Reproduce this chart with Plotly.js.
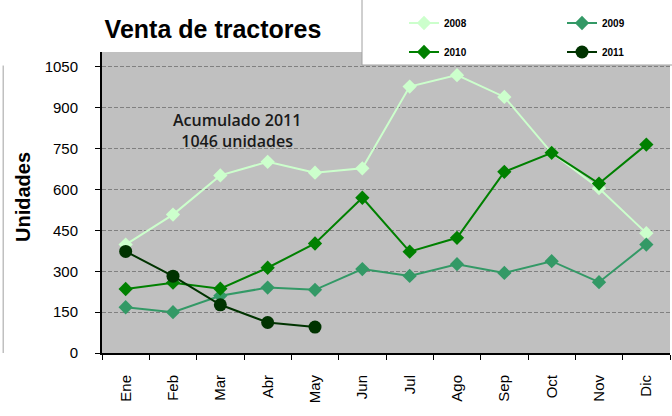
<!DOCTYPE html>
<html>
<head>
<meta charset="utf-8">
<script src="https://cdn.plot.ly/plotly-3.0.1.min.js"></script>
<style>
  html, body { margin: 0; padding: 0; background: #fff; }
  #chartBox { width: 672px; height: 416px; }
</style>
</head>
<body>
<div id="chartBox"></div>
<script>
// meses y ventas por año
const meses = ['Ene', 'Feb', 'Mar', 'Abr', 'May', 'Jun', 'Jul', 'Ago', 'Sep', 'Oct', 'Nov', 'Dic'];
const ventas2008 = [398, 508, 652, 702, 662, 678, 978, 1020, 940, 735, 605, 440];
const ventas2009 = [168, 150, 210, 240, 232, 308, 283, 326, 294, 337, 260, 398];
const ventas2010 = [235, 258, 236, 313, 402, 570, 372, 423, 665, 735, 622, 765];
const ventas2011 = [373, 282, 177, 112, 95];
const yTicks = [0, 150, 300, 450, 600, 750, 900, 1050];

const fontBase = 'Liberation Sans, Arial, sans-serif';

function serie(name, y, color, symbol, size, legend) {
    return {
        x: meses.slice(0, y.length),
        y: y,
        name: name,
        type: 'scatter',
        mode: 'lines+markers',
        line: {color: color, width: 2},
        marker: {color: color, symbol: symbol, size: size},
        showlegend: true,
        legend: legend
    };
}

const data = [
    serie('2008', ventas2008, '#ccffcc', 'diamond', 11, 'legend'),
    serie('2009', ventas2009, '#339966', 'diamond', 11, 'legend2'),
    serie('2010', ventas2010, '#008000', 'diamond', 11, 'legend3'),
    serie('2011', ventas2011, '#003300', 'circle', 13, 'legend4')
];

// una leyenda por serie, para colocarlas en 2 x 2
function leyenda(px, py) {
    return {
        xanchor: 'left',
        yanchor: 'middle',
        x: (px - 102) / 568,
        y: (353 - py) / 301,
        bgcolor: 'rgba(0,0,0,0)',
        font: {family: fontBase, size: 10, color: '#000', weight: 'bold'}
    };
}

const layout = {
    width: 672,
    height: 416,
    margin: {l: 102, r: 2, t: 52, b: 63},
    showlegend: true,
    paper_bgcolor: '#ffffff',
    plot_bgcolor: '#c0c0c0',
    title: {
        text: '<b>Venta de tractores</b>',
        font: {family: fontBase, size: 25, color: '#000'},
        x: 213 / 672, xanchor: 'center',
        y: 1 - 29 / 416, yanchor: 'middle'
    },
    xaxis: {
        type: 'category',
        range: [-0.5, 11.5],
        showline: true, linecolor: '#000', linewidth: 2,
        ticks: 'outside', ticklen: 5, tickcolor: '#000',
        tickson: 'boundaries',
        tickangle: -90,
        ticklabelstandoff: 14,
        tickfont: {family: fontBase, size: 15, color: '#000'},
        showgrid: false
    },
    yaxis: {
        range: [0, 1105],
        tickvals: yTicks,
        showline: true, linecolor: '#000', linewidth: 2,
        ticks: 'outside', ticklen: 5, tickcolor: '#000',
        ticklabelstandoff: 14,
        tickfont: {family: fontBase, size: 15, color: '#000'},
        gridcolor: '#808080', griddash: '4px,2px', gridwidth: 1,
        zeroline: false
    },
    legend: leyenda(404, 23),
    legend2: leyenda(562, 23),
    legend3: leyenda(404, 52),
    legend4: leyenda(562, 52),
    shapes: [
        {
            type: 'rect', xref: 'paper', yref: 'paper', layer: 'above',
            x0: (362 - 102) / 568, x1: 1.01, y0: (353 - 65) / 301, y1: 1.2,
            fillcolor: '#ffffff', line: {color: '#a0a0a0', width: 1}
        },
        {
            type: 'line', xref: 'paper', yref: 'paper',
            x0: -0.174, x1: -0.174, y0: 0, y1: 0.955,
            line: {color: '#a0a0a0', width: 1}
        }
    ],
    annotations: [
        {
            xref: 'paper', yref: 'paper',
            x: (237 - 102) / 568, y: (353 - 130) / 301,
            xanchor: 'center', yanchor: 'middle',
            text: 'Acumulado 2011<br>1046 unidades',
            showarrow: false,
            font: {family: 'Open Sans, sans-serif', size: 16, color: '#1a1a1a', weight: 600}
        },
        {
            // título del eje Y
            xref: 'paper', yref: 'paper',
            x: (23 - 102) / 568, y: (353 - 197) / 301,
            xanchor: 'center', yanchor: 'middle',
            text: '<b>Unidades</b>',
            textangle: -90,
            showarrow: false,
            font: {family: fontBase, size: 20, color: '#000'}
        }
    ]
};

Plotly.newPlot('chartBox', data, layout, {displayModeBar: false, staticPlot: true});
</script>
</body>
</html>
